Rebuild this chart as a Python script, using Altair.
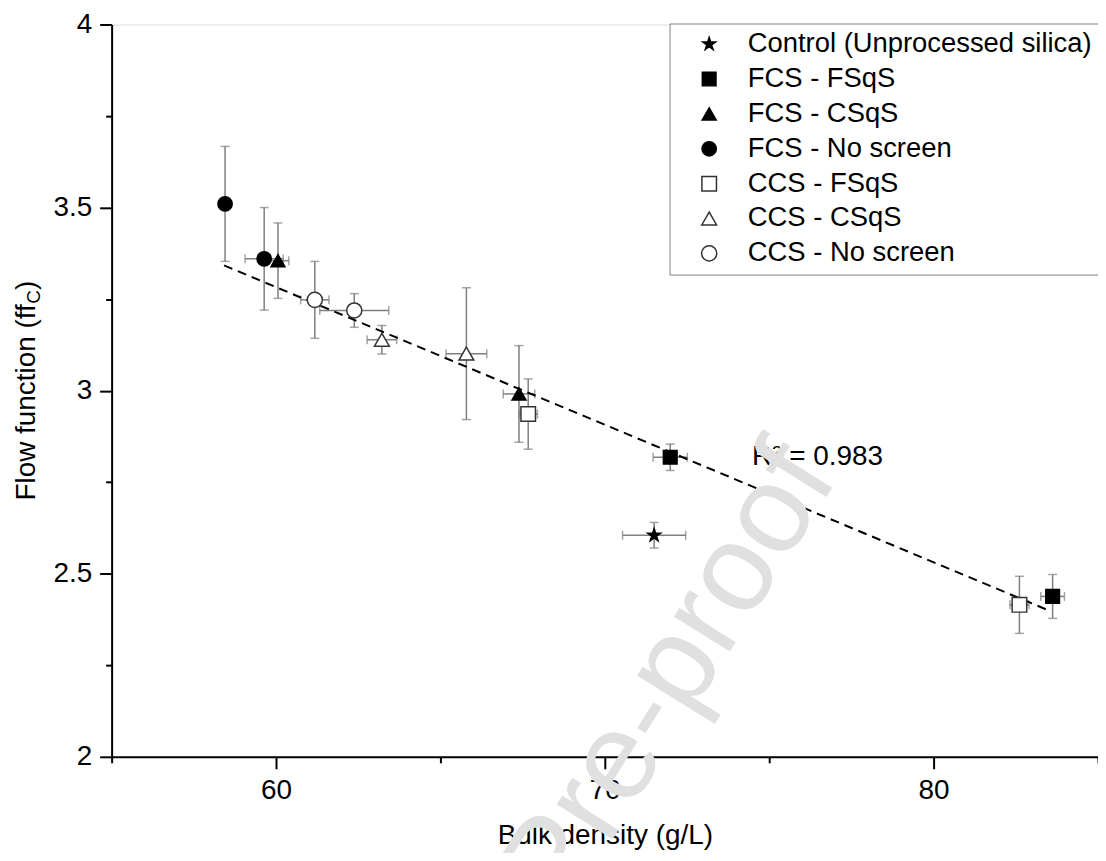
import altair as alt
import pandas as pd

FONT = "Arial"
GREY = "#7f7f7f"
STAR = ("M0,-1L0.225,-0.309L0.951,-0.309L0.363,0.118L0.588,0.809L0,0.382"
        "L-0.588,0.809L-0.363,0.118L-0.951,-0.309L-0.225,-0.309Z")

# ---- legend / series definitions ----
series_names = ["Control (Unprocessed silica)", "FCS - FSqS", "FCS - CSqS",
                "FCS - No screen", "CCS - FSqS", "CCS - CSqS", "CCS - No screen"]
series_shapes = [STAR, "square", "triangle-up", "circle", "square", "triangle-up", "circle"]
series_fills = ["black", "black", "black", "black", "white", "white", "white"]
series_strokes = ["black", "black", "black", "black", "#333333", "#333333", "#333333"]
series_sizes = [180, 230, 460, 330, 230, 400, 290]

# ---- measured points ----
point_series = ["FCS - No screen", "FCS - No screen", "FCS - CSqS", "CCS - No screen",
                "CCS - No screen", "CCS - CSqS", "CCS - CSqS", "FCS - CSqS", "CCS - FSqS",
                "FCS - FSqS", "Control (Unprocessed silica)", "CCS - FSqS", "FCS - FSqS"]
bulk_density = [58.45, 59.64, 60.06, 61.18, 62.38, 63.22, 65.79, 67.39, 67.67, 71.99, 71.50, 82.61, 83.62]
bulk_density_err = [0.15, 0.58, 0.33, 0.43, 1.05, 0.45, 0.62, 0.48, 0.28, 0.52, 0.96, 0.29, 0.36]
flow_function = [3.51, 3.36, 3.355, 3.248, 3.219, 3.139, 3.101, 2.991, 2.936, 2.818, 2.605, 2.415, 2.438]
flow_function_err = [0.157, 0.14, 0.103, 0.105, 0.046, 0.039, 0.18, 0.132, 0.096, 0.036, 0.035, 0.078, 0.06]

# ---- linear fit ----
fit_x = [58.42, 83.52]
fit_y = [3.342, 2.399]
r2_label = ["R² = 0.983"]
r2_x = [74.48]
r2_y = [2.82]

x_tick_values = [55, 60, 65, 70, 75, 80, 85]
y_tick_values = [2, 2.25, 2.5, 2.75, 3, 3.25, 3.5, 3.75, 4]

W, H = 990, 735

pts = pd.DataFrame({
    "series": point_series,
    "bulk": bulk_density,
    "bulk_err": bulk_density_err,
    "ff": flow_function,
    "ff_err": flow_function_err,
})
pts["x_lo"] = pts["bulk"] - pts["bulk_err"]
pts["x_hi"] = pts["bulk"] + pts["bulk_err"]
pts["y_lo"] = pts["ff"] - pts["ff_err"]
pts["y_hi"] = pts["ff"] + pts["ff_err"]

xcaps = pd.DataFrame({
    "cx": list(pts["x_lo"]) + list(pts["x_hi"]),
    "cy": list(pts["ff"]) * 2,
})
ycaps = pd.DataFrame({
    "cx": list(pts["bulk"]) * 2,
    "cy": list(pts["y_lo"]) + list(pts["y_hi"]),
})
fit = pd.DataFrame({"fx": fit_x, "fy": fit_y})

x_scale = alt.Scale(domain=[55, 85], nice=False, zero=False)
y_scale = alt.Scale(domain=[2, 4], nice=False, zero=False)

x_axis = alt.Axis(
    values=x_tick_values,
    labelExpr="datum.value % 10 === 0 ? datum.label : ''",
    tickSize={"condition": {"test": "datum.value % 10 === 0", "value": 12}, "value": 6},
    tickWidth=2, domainWidth=2, domainColor="black", tickColor="black",
    labelFont=FONT, labelFontSize=28, labelColor="black", labelPadding=8,
    grid=False, title="Bulk density (g/L)", titleFont=FONT, titleFontSize=28,
    titleFontWeight="normal", titleColor="black", titleY=79, titleBaseline="middle",
)
y_axis = alt.Axis(
    values=y_tick_values,
    labelExpr="datum.value % 0.5 === 0 ? '' + datum.value : ''",
    tickSize={"condition": {"test": "datum.value % 0.5 === 0", "value": 12}, "value": 6},
    tickWidth=2, domainWidth=2, domainColor="black", tickColor="black",
    labelFont=FONT, labelFontSize=28, labelColor="black", labelPadding=8,
    grid=False, title=None,
)


def X(field):
    return alt.X(field, type="quantitative", scale=x_scale, axis=x_axis)


def Y(field):
    return alt.Y(field, type="quantitative", scale=y_scale, axis=y_axis)


xbars = alt.Chart(pts).mark_rule(color=GREY, strokeWidth=1.5).encode(
    x=X("x_lo"), x2="x_hi", y=Y("ff"))
ybars = alt.Chart(pts).mark_rule(color=GREY, strokeWidth=1.5).encode(
    x=X("bulk"), y=Y("y_lo"), y2="y_hi")
xcap = alt.Chart(xcaps).mark_tick(orient="vertical", size=9, thickness=1.5, color=GREY).encode(
    x=X("cx"), y=Y("cy"))
ycap = alt.Chart(ycaps).mark_tick(orient="horizontal", size=9, thickness=1.5, color=GREY).encode(
    x=X("cx"), y=Y("cy"))

fit_line = alt.Chart(fit).mark_line(color="black", strokeWidth=2, strokeDash=[9, 6]).encode(
    x=X("fx"), y=Y("fy"))

legend = alt.Legend(
    title=None, orient="none", legendX=560, legendY=-1,
    labelFont=FONT, labelFontSize=27.5, labelColor="black", labelLimit=0,
    padding=7, rowPadding=6, symbolOffset=19, labelOffset=25,
    strokeColor="#808080", fillColor="white", symbolStrokeWidth=1.5,
)

points = alt.Chart(pts).mark_point(filled=True, opacity=1, strokeWidth=1.5).encode(
    x=X("bulk"), y=Y("ff"),
    shape=alt.Shape("series:N", scale=alt.Scale(domain=series_names, range=series_shapes), legend=legend),
    fill=alt.Fill("series:N", scale=alt.Scale(domain=series_names, range=series_fills), legend=legend),
    stroke=alt.Stroke("series:N", scale=alt.Scale(domain=series_names, range=series_strokes), legend=legend),
    size=alt.Size("series:N", scale=alt.Scale(domain=series_names, range=series_sizes), legend=legend),
)

r2 = alt.Chart(pd.DataFrame({"t": r2_label, "x": r2_x, "y": r2_y})).mark_text(
    align="left", baseline="middle", font=FONT, fontSize=28, color="black").encode(
    x=X("x"), y=Y("y"), text="t:N")

# y-axis title with subscript C
ytitle_main = alt.Chart(pd.DataFrame({"t": ["Flow function (ff"]})).mark_text(
    align="left", baseline="middle", angle=270, font=FONT, fontSize=28, color="black").encode(
    x=alt.value(-85), y=alt.value(477.8), text="t:N")
ytitle_sub = alt.Chart(pd.DataFrame({"t": ["C"]})).mark_text(
    align="left", baseline="middle", angle=270, font=FONT, fontSize=19, color="black").encode(
    x=alt.value(-78), y=alt.value(280.2), text="t:N")
ytitle_end = alt.Chart(pd.DataFrame({"t": [")"]})).mark_text(
    align="left", baseline="middle", angle=270, font=FONT, fontSize=28, color="black").encode(
    x=alt.value(-85), y=alt.value(266.5), text="t:N")

watermark = alt.Chart(pd.DataFrame({"t": ["Journal Pre-proof"]})).mark_text(
    align="right", baseline="alphabetic", angle=302, font=FONT, fontSize=125,
    color="#e0e0e0").encode(
    x=alt.value(730), y=alt.value(454), text="t:N")

chart = alt.layer(
    xbars, ybars, xcap, ycap, fit_line, points, r2,
    ytitle_main, ytitle_sub, ytitle_end, watermark,
).properties(
    width=W, height=H,
    autosize=alt.AutoSizeParams(type="none"),
    padding={"left": 104, "top": 15, "right": 0, "bottom": 95},
).configure_view(stroke=None).configure(background="white")

chart.save("out.html", embed_options={"renderer": "svg", "actions": False})
